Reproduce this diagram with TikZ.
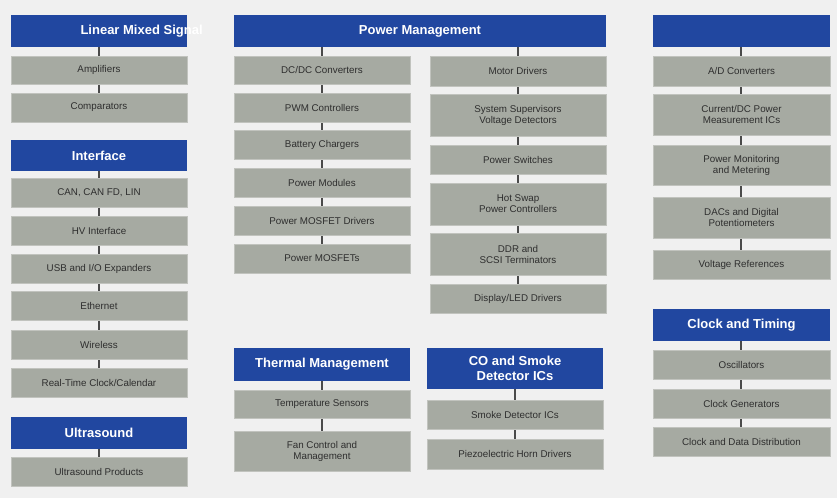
\documentclass[tikz,border=0pt]{standalone}
\usepackage{fontspec}
\setmainfont{Liberation Sans}
\definecolor{bg}{HTML}{F0F0F0}
\definecolor{hdr}{HTML}{2147A0}
\definecolor{gbx}{HTML}{A6AAA2}
\definecolor{gtx}{HTML}{2E2E2E}
\definecolor{ln}{HTML}{4A4A4A}
\tikzset{
  gbox/.style={fill=gbx, draw=gbx!70!white, line width=0.6pt, inner sep=0pt, text=gtx, font=\fontsize{9.8}{11}\selectfont, align=center},
  hbox/.style={fill=hdr, inner sep=0pt, text=white, font=\bfseries\fontsize{13}{14.5}\selectfont, align=center},
  conn/.style={draw=ln, line width=1.3pt}
}
\newcommand{\bx}[7]{\node[#1, minimum width=#4-#2, minimum height=#5-#3] (#6) at ({(#2+#4)/2},{(#3+#5)/2}) {#7};}
\begin{document}
\begin{tikzpicture}[x=1pt,y=-1pt]
\fill[bg] (0,0) rectangle (837,498);
\useasboundingbox (0,0) rectangle (837,498);
% connectors first
\draw[conn] (99,47) -- (99,93);
\draw[conn] (99,171) -- (99,368);
\draw[conn] (99,449) -- (99,457);
\draw[conn] (322,47) -- (322,244);
\draw[conn] (518,47) -- (518,284);
\draw[conn] (322,381) -- (322,431);
\draw[conn] (515,389) -- (515,439);
\draw[conn] (741,47) -- (741,250);
\draw[conn] (741,341) -- (741,427);
% column 1
\bx{hbox}{11}{15}{187}{47}{lms}{}
\node[text=white, font=\bfseries\fontsize{13}{14.5}\selectfont, anchor=west] at (77,31) {Linear Mixed Signal};
\bx{gbox}{11}{56}{187}{84}{amp}{Amplifiers}
\bx{gbox}{11}{93}{187}{122}{comp}{Comparators}
\bx{hbox}{11}{140}{187}{171}{intf}{Interface}
\bx{gbox}{11}{178}{187}{207}{can}{CAN, CAN FD, LIN}
\bx{gbox}{11}{216}{187}{245}{hv}{HV Interface}
\bx{gbox}{11}{254}{187}{283}{usb}{USB and I/O Expanders}
\bx{gbox}{11}{291}{187}{320}{eth}{Ethernet}
\bx{gbox}{11}{330}{187}{359}{wl}{Wireless}
\bx{gbox}{11}{368}{187}{397}{rtc}{Real-Time Clock/Calendar}
\bx{hbox}{11}{417}{187}{449}{us}{Ultrasound}
\bx{gbox}{11}{457}{187}{486}{usp}{Ultrasound Products}
% power management
\bx{hbox}{234}{15}{606}{47}{pm}{Power Management}
\bx{gbox}{234}{56}{410}{84}{dcdc}{DC/DC Converters}
\bx{gbox}{234}{93}{410}{122}{pwm}{PWM Controllers}
\bx{gbox}{234}{130}{410}{159}{bat}{Battery Chargers}
\bx{gbox}{234}{168}{410}{197}{pmod}{Power Modules}
\bx{gbox}{234}{206}{410}{235}{mdrv}{Power MOSFET Drivers}
\bx{gbox}{234}{244}{410}{273}{mos}{Power MOSFETs}
\bx{gbox}{430}{56}{606}{86}{motor}{Motor Drivers}
\bx{gbox}{430}{94}{606}{136}{sup}{System Supervisors\\Voltage Detectors}
\bx{gbox}{430}{145}{606}{174}{psw}{Power Switches}
\bx{gbox}{430}{183}{606}{225}{hot}{Hot Swap\\Power Controllers}
\bx{gbox}{430}{233}{606}{275}{ddr}{DDR and\\SCSI Terminators}
\bx{gbox}{430}{284}{606}{313}{disp}{Display/LED Drivers}
% thermal
\bx{hbox}{234}{348}{410}{381}{th}{Thermal Management}
\bx{gbox}{234}{390}{410}{418}{temp}{Temperature Sensors}
\bx{gbox}{234}{431}{410}{471}{fan}{Fan Control and\\Management}
% CO
\bx{hbox}{427}{348}{603}{389}{co}{CO and Smoke\\Detector ICs}
\bx{gbox}{427}{400}{603}{429}{smk}{Smoke Detector ICs}
\bx{gbox}{427}{439}{603}{469}{piezo}{Piezoelectric Horn Drivers}
% column 3
\bx{hbox}{653}{15}{830}{47}{dc}{}
\bx{gbox}{653}{56}{830}{86}{ad}{A/D Converters}
\bx{gbox}{653}{94}{830}{135}{cur}{Current/DC Power\\Measurement ICs}
\bx{gbox}{653}{145}{830}{185}{pmon}{Power Monitoring\\and Metering}
\bx{gbox}{653}{197}{830}{238}{dac}{DACs and Digital\\Potentiometers}
\bx{gbox}{653}{250}{830}{279}{vref}{Voltage References}
\bx{hbox}{653}{309}{830}{341}{clk}{Clock and Timing}
\bx{gbox}{653}{350}{830}{379}{osc}{Oscillators}
\bx{gbox}{653}{389}{830}{418}{cgen}{Clock Generators}
\bx{gbox}{653}{427}{830}{456}{cdd}{Clock and Data Distribution}
\end{tikzpicture}
\end{document}
